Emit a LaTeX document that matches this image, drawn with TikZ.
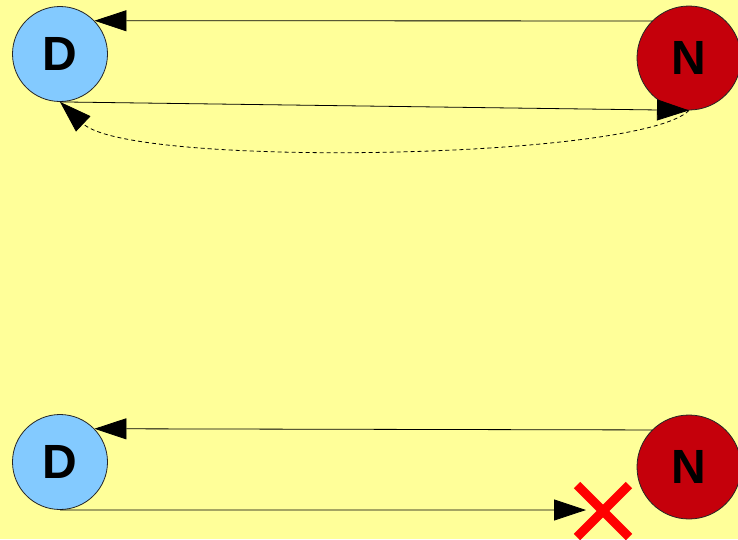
\documentclass[tikz,border=0pt]{standalone}
\usepackage{fontspec}
\setmainfont{Liberation Sans}
\usetikzlibrary{arrows.meta}
\definecolor{bgyellow}{HTML}{FFFF99}
\definecolor{dblue}{HTML}{83CAFF}
\definecolor{nred}{HTML}{C5000B}
\begin{document}
\begin{tikzpicture}[x=1pt,y=-1pt,
  station/.style={circle, draw=black!85, line width=0.8pt, inner sep=0pt,
    font=\fontsize{48}{48}\selectfont\bfseries},
  dnode/.style={station, fill=dblue, minimum size=95pt},
  nnode/.style={station, fill=nred, minimum size=104pt},
  link/.style={line width=0.8pt, -{Triangle[length=32pt,width=21pt]}},
  retlink/.style={link, dash pattern=on 4pt off 3pt},
  blocked/.style={line width=9pt, red}]
% canvas
\fill[bgyellow] (0,0) rectangle (738,539);
\useasboundingbox (0,0) rectangle (738,539);

% upper pair: both directions work
\node[dnode] (D1) at (60,54) {D};
\node[nnode] (N1) at (689,58) {N};
\draw[link] (N1.135) -- (D1.44);
\draw[link] (D1.south) -- (N1.south);
\draw[retlink] (N1.south) .. controls (640,160) and (130,168) .. (D1.south);

% lower pair: the forward path is cut
\node[dnode] (D2) at (60,462) {D};
\node[nnode] (N2) at (689,467) {N};
\coordinate (cut) at (586,510);
\draw[link] (N2.135) -- (D2.44);
\draw[link] (D2.south) -- (cut);
\draw[blocked] (577,485) -- (629,537);
\draw[blocked] (629,485) -- (577,537);
\end{tikzpicture}
\end{document}
